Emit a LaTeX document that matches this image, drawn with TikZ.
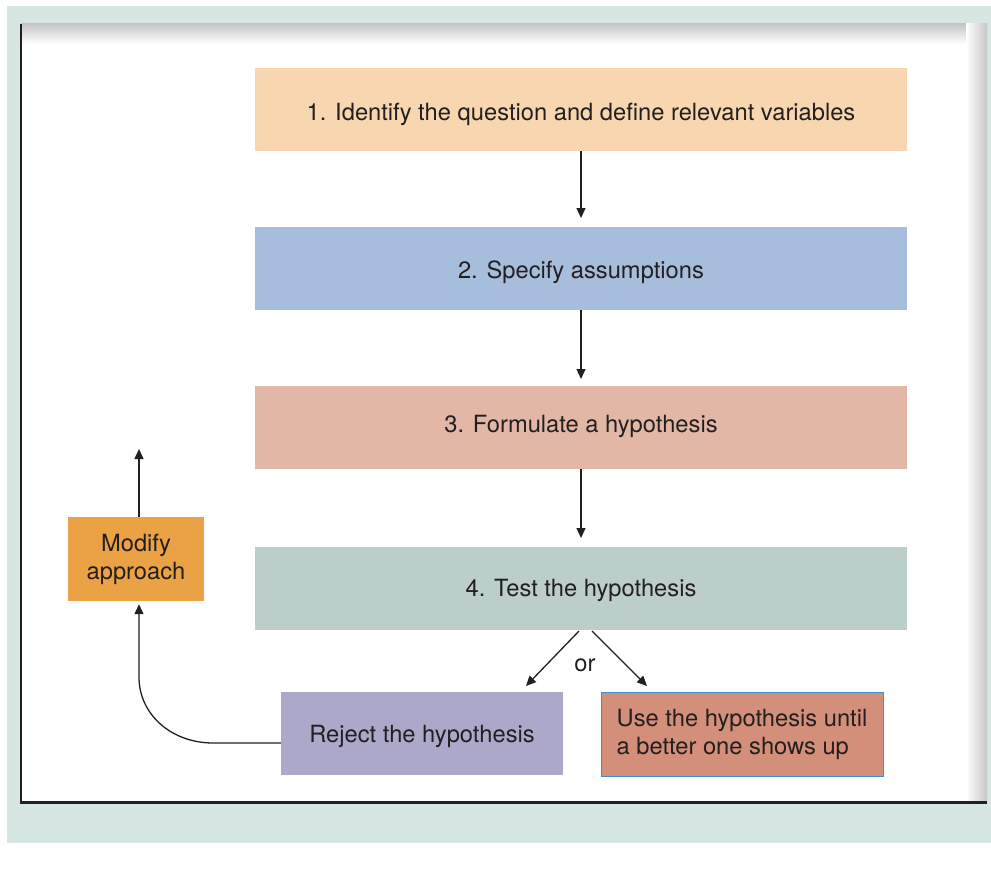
\documentclass[tikz,border=0pt]{standalone}
\usepackage{fontspec}
\setmainfont{TeX Gyre Heros}
\usetikzlibrary{arrows.meta,positioning}
\definecolor{bgteal}{HTML}{D6E6E3}
\definecolor{cone}{HTML}{F7D6B0}
\definecolor{ctwo}{HTML}{A7BDDC}
\definecolor{cthree}{HTML}{E2B7A6}
\definecolor{cfour}{HTML}{BBCECA}
\definecolor{cmod}{HTML}{EBA244}
\definecolor{crej}{HTML}{ABA8CA}
\definecolor{cuse}{HTML}{D38F79}
\definecolor{cuseb}{HTML}{3D8FD6}
\definecolor{ctext}{HTML}{231F20}
\definecolor{shadowgray}{HTML}{C6C6C8}
\tikzset{
  px/.style={x=1pt,y=-1pt},
  stepbox/.style={draw=none,inner sep=0pt,text=ctext,font=\fontsize{23.7}{28}\selectfont},
  widebox/.style={stepbox,minimum width=652pt,minimum height=83pt,text depth=0pt},
  flowarrow/.style={draw=ctext,line width=1.3pt,-{Triangle[length=10pt,width=9pt]}},
}
\begin{document}
\begin{tikzpicture}[px]
\useasboundingbox (0,0) rectangle (991,872);
% backgrounds
\fill[bgteal] (7,6) rectangle (991,843);
\fill[white] (21,24) rectangle (987,802);
\shade[top color=shadowgray,bottom color=white] (21,24) rectangle (987,44);
\shade[left color=white,right color=shadowgray] (966,24) rectangle (987,802);
\fill[white,rounded corners=10pt] (21,44) -- (968,44) -- (968,802) -- (21,802) -- cycle;
\fill[white] (21,44) rectangle (955,802);
\fill[white] (21,60) rectangle (968,802);
\draw[ctext,line width=2pt] (21,24) -- (21,802);
\draw[ctext,line width=3pt] (20,802) -- (987,802);

% boxes
\node[widebox,fill=cone,text height=23pt] (s1) at (581,109.5) {1. Identify the question and define relevant variables};
\node[widebox,fill=ctwo,text height=19pt] (s2) at (581,268.5) {2. Specify assumptions};
\node[widebox,fill=cthree,text height=9pt] (s3) at (581,427.5) {3. Formulate a hypothesis};
\node[widebox,fill=cfour,text height=15pt] (s4) at (581,588.5) {4. Test the hypothesis};
\node[stepbox,fill=cmod,minimum width=136pt,minimum height=84pt,align=center] (mod) at (136,559) {Modify\\approach};
\node[stepbox,fill=crej,minimum width=282pt,minimum height=83pt,text height=17pt,text depth=0pt] (rej) at (422,733.5) {Reject the hypothesis};
\node[stepbox,fill=cuse,draw=cuseb,line width=1pt,minimum width=282pt,minimum height=84pt,align=left] (use) at (742,734) {Use the hypothesis until\\a better one shows up};
\node[stepbox] (or) at (585,665) {or};

% coordinates
\coordinate (t2) at (581,218);
\coordinate (t3) at (581,379);
\coordinate (t4) at (581,538);
\coordinate (dl0) at (579,631);
\coordinate (dl1) at (526,686);
\coordinate (dr0) at (592,631);
\coordinate (dr1) at (647,686);
\coordinate (up) at (139,449);

% connectors
\draw[flowarrow] (s1.south -| t2) -- (t2);
\draw[flowarrow] (s2.south -| t3) -- (t3);
\draw[flowarrow] (s3.south -| t4) -- (t4);
\draw[flowarrow] (dl0) -- (dl1);
\draw[flowarrow] (dr0) -- (dr1);
\draw[flowarrow] (mod.north -| up) -- (up);
\draw[flowarrow] (rej.west |- 0,743) -- (213,743) .. controls (172,743) and (139,715) .. (139,677) -- ([yshift=-3pt]mod.south -| up);
\end{tikzpicture}
\end{document}
